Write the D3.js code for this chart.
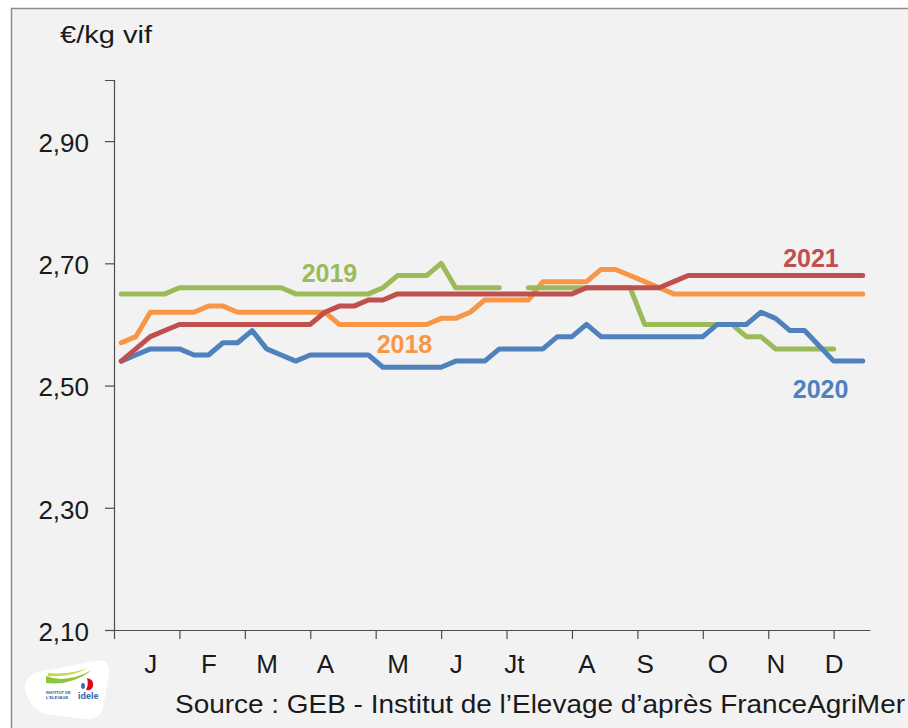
<!DOCTYPE html>
<html>
<head>
<meta charset="utf-8">
<script src="https://cdn.jsdelivr.net/npm/d3@7"></script>
<style>
  html, body { margin: 0; padding: 0; background: #ffffff; }
  svg { display: block; }
  text { font-family: "Liberation Sans", Arial, sans-serif; }
</style>
</head>
<body>
<div id="chart"></div>
<script>
// ---------------- DATA ----------------
const weeks = d3.range(1, 53);                     // 52 weekly categories
const monthLabels = ["J", "F", "M", "A", "M", "J", "Jt", "A", "S", "O", "N", "D"];
const monthWeeks  = [3, 7, 11, 15, 20, 24, 28, 33, 37, 42, 46, 50];
const yTickValues = [2.10, 2.30, 2.50, 2.70, 2.90];
const seriesNames = ["2018", "2019", "2020", "2021"];

const s2018 = [2.57, 2.58, 2.62, 2.62, 2.62, 2.62, 2.63, 2.63, 2.62, 2.62,
               2.62, 2.62, 2.62, 2.62, 2.62, 2.60, 2.60, 2.60, 2.60, 2.60,
               2.60, 2.60, 2.61, 2.61, 2.62, 2.64, 2.64, 2.64, 2.64, 2.67,
               2.67, 2.67, 2.67, 2.69, 2.69, 2.68, 2.67, 2.66, 2.65, 2.65,
               2.65, 2.65, 2.65, 2.65, 2.65, 2.65, 2.65, 2.65, 2.65, 2.65,
               2.65, 2.65];
const s2019 = [2.65, 2.65, 2.65, 2.65, 2.66, 2.66, 2.66, 2.66, 2.66, 2.66,
               2.66, 2.66, 2.65, 2.65, 2.65, 2.65, 2.65, 2.65, 2.66, 2.68,
               2.68, 2.68, 2.70, 2.66, 2.66, 2.66, 2.66, null, 2.66, 2.66,
               2.66, 2.66, 2.66, 2.66, 2.66, 2.66, 2.60, 2.60, 2.60, 2.60,
               2.60, 2.60, 2.60, 2.58, 2.58, 2.56, 2.56, 2.56, 2.56, 2.56,
               null, null];
const s2020 = [2.54, 2.55, 2.56, 2.56, 2.56, 2.55, 2.55, 2.57, 2.57, 2.59,
               2.56, 2.55, 2.54, 2.55, 2.55, 2.55, 2.55, 2.55, 2.53, 2.53,
               2.53, 2.53, 2.53, 2.54, 2.54, 2.54, 2.56, 2.56, 2.56, 2.56,
               2.58, 2.58, 2.60, 2.58, 2.58, 2.58, 2.58, 2.58, 2.58, 2.58,
               2.58, 2.60, 2.60, 2.60, 2.62, 2.61, 2.59, 2.59, 2.565, 2.54,
               2.54, 2.54];
const s2021 = [2.54, 2.56, 2.58, 2.59, 2.60, 2.60, 2.60, 2.60, 2.60, 2.60,
               2.60, 2.60, 2.60, 2.60, 2.62, 2.63, 2.63, 2.64, 2.64, 2.65,
               2.65, 2.65, 2.65, 2.65, 2.65, 2.65, 2.65, 2.65, 2.65, 2.65,
               2.65, 2.65, 2.66, 2.66, 2.66, 2.66, 2.66, 2.66, 2.67, 2.68,
               2.68, 2.68, 2.68, 2.68, 2.68, 2.68, 2.68, 2.68, 2.68, 2.68,
               2.68, 2.68];

const seriesValues = [s2018, s2019, s2020, s2021];

// ---------------- LAYOUT / STYLE ----------------
const W = 908, H = 728;
const colors = { "2018": "#F79646", "2019": "#9BBB59", "2020": "#4F81BD", "2021": "#C0504D" };
const plot = { left: 114, right: 870, top: 80, bottom: 630 };

const svg = d3.select("#chart").append("svg")
  .attr("width", W).attr("height", H);

// frame / background
svg.append("rect").attr("x", 0).attr("y", 0).attr("width", W).attr("height", H).attr("fill", "#ffffff");
svg.append("rect")
  .attr("x", 11.5).attr("y", 8.5).attr("width", W + 20).attr("height", H + 20)
  .attr("fill", "#F2F2F2").attr("stroke", "#8C8C8C").attr("stroke-width", 1.5);

// scales
const x = d3.scaleLinear().domain([0, weeks.length]).range([plot.left, plot.right]);
const y = d3.scaleLinear().domain([2.10, 3.00]).range([plot.bottom, plot.top]);

// y axis
const yAxis = d3.axisLeft(y)
  .tickValues(yTickValues)
  .tickSize(9).tickPadding(16)
  .tickFormat(d => d.toFixed(2).replace(".", ","));
const gy = svg.append("g").attr("transform", `translate(${plot.left},0)`).call(yAxis);
gy.select(".domain").attr("stroke", "#4D4D4D").attr("stroke-width", 1.2);
gy.selectAll(".tick line").attr("stroke", "#4D4D4D").attr("stroke-width", 1.2);
gy.selectAll(".tick text")
  .attr("fill", "#1A1A1A").attr("font-size", 26).attr("dy", "0.4em")
  .style("font-family", "'Liberation Sans', Arial, sans-serif");

// x axis (tick marks)
const tickStep = 4.5;
const xAxis = d3.axisBottom(x)
  .tickValues(d3.range(0, weeks.length, tickStep))
  .tickSize(9).tickSizeOuter(0)
  .tickFormat("");
const gx = svg.append("g").attr("transform", `translate(0,${plot.bottom})`).call(xAxis);
gx.select(".domain").attr("stroke", "#4D4D4D").attr("stroke-width", 1.2);
gx.selectAll(".tick line").attr("stroke", "#4D4D4D").attr("stroke-width", 1.2);

// x axis (month labels at week centers)
const xLab = d3.axisBottom(x)
  .tickValues(monthWeeks.map(w => w - 0.5))
  .tickSize(0).tickPadding(24.5)
  .tickFormat((d, i) => monthLabels[i]);
const gxl = svg.append("g").attr("transform", `translate(0,${plot.bottom})`).call(xLab);
gxl.select(".domain").remove();
gxl.selectAll(".tick text")
  .attr("fill", "#1A1A1A").attr("font-size", 26)
  .style("font-family", "'Liberation Sans', Arial, sans-serif");

// lines
const line = d3.line()
  .defined(d => d != null)
  .x((d, i) => x(i + 0.5))
  .y(d => y(d));

seriesNames.forEach((name, k) => {
  svg.append("path")
    .datum(seriesValues[k])
    .attr("d", line)
    .attr("fill", "none")
    .attr("stroke", colors[name])
    .attr("stroke-width", 5)
    .attr("stroke-linecap", "round")
    .attr("stroke-linejoin", "round");
});

// series labels (anchored in data space)
const labelPos = {
  "2019": { w: 14.82, v: 2.6695 },
  "2018": { w: 19.98, v: 2.5533 },
  "2021": { w: 47.94, v: 2.6940 },
  "2020": { w: 48.60, v: 2.4796 }
};
seriesNames.forEach(name => {
  const p = labelPos[name];
  svg.append("text")
    .attr("x", x(p.w)).attr("y", y(p.v))
    .attr("text-anchor", "middle")
    .attr("font-size", 25).attr("font-weight", "bold")
    .attr("fill", colors[name])
    .text(name);
});

// unit label
svg.append("text")
  .attr("x", 60).attr("y", 43)
  .attr("font-size", 23).attr("fill", "#1A1A1A")
  .attr("textLength", 92).attr("lengthAdjust", "spacingAndGlyphs")
  .text("€/kg vif");

// source
svg.append("text")
  .attr("x", 175).attr("y", 713)
  .attr("font-size", 25).attr("fill", "#1A1A1A")
  .attr("textLength", 730).attr("lengthAdjust", "spacingAndGlyphs")
  .text("Source : GEB - Institut de l’Elevage d’après FranceAgriMer");

// logo (approximation)
const logo = svg.append("g");
logo.append("path")
  .attr("d", "M25,689 Q23,678 38,672 L95,661 Q110,658 109,673 L103,708 Q100,720 86,719 L44,714 Q29,707 25,689 Z")
  .attr("fill", "#ffffff");
logo.append("path")
  .attr("d", "M46,676 Q66,684 92,670 Q72,686 46,683 Z")
  .attr("fill", "#8DC63F");
logo.append("path")
  .attr("d", "M48,676 Q70,678 88,668 Q70,675 48,673 Z")
  .attr("fill", "#C8D94A");
logo.append("path")
  .attr("d", "M87,678 Q94,679 93,686 Q92,691 86,690 Q89,684 87,678 Z")
  .attr("fill", "#E30613");
logo.append("ellipse").attr("cx", 83).attr("cy", 686).attr("rx", 2).attr("ry", 3).attr("fill", "#3B6FB6");
logo.append("text").attr("x", 46).attr("y", 694).attr("font-size", 4).attr("fill", "#2B5DA8")
  .attr("font-weight", "bold").text("INSTITUT DE");
logo.append("text").attr("x", 46).attr("y", 699).attr("font-size", 4).attr("fill", "#2B5DA8")
  .attr("font-weight", "bold").text("L'ELEVAGE");
logo.append("text").attr("x", 78).attr("y", 699).attr("font-size", 9).attr("fill", "#2B5DA8")
  .attr("font-weight", "bold").text("idele");
</script>
</body>
</html>
